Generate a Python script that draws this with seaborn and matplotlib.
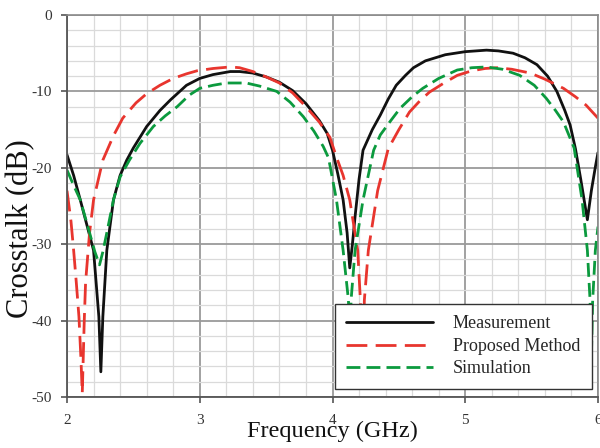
import matplotlib
matplotlib.use("Agg")
import matplotlib.pyplot as plt
import seaborn as sns
from matplotlib.ticker import MultipleLocator

# ---- data ----
meas_f = [2.00, 2.05, 2.10, 2.15, 2.20, 2.24, 2.255, 2.27, 2.30, 2.35, 2.40, 2.45, 2.50,
          2.60, 2.70, 2.78, 2.90, 3.00, 3.10, 3.23, 3.30, 3.40, 3.50, 3.60, 3.70, 3.80,
          3.90, 3.96, 4.00, 4.04, 4.08, 4.11, 4.13, 4.15, 4.17, 4.20, 4.23, 4.30, 4.36,
          4.42, 4.48, 4.55, 4.61, 4.70, 4.85, 5.00, 5.16, 5.25, 5.36, 5.45, 5.54, 5.62,
          5.69, 5.75, 5.79, 5.83, 5.87, 5.92, 5.95, 5.98, 6.00]
meas_db = [-18.3, -21.0, -24.2, -27.5, -30.8, -39.5, -46.7, -39.5, -30.8, -24.2, -21.0, -19.0, -17.4,
           -14.6, -12.5, -11.1, -9.2, -8.3, -7.8, -7.4, -7.4, -7.6, -8.1, -8.8, -9.9, -11.6,
           -13.8, -15.5, -17.7, -20.8, -24.2, -28.5, -33.1, -30.0, -26.4, -21.5, -17.7, -15.0, -13.1,
           -11.0, -9.2, -7.9, -6.9, -6.0, -5.2, -4.8, -4.6, -4.7, -5.0, -5.6, -6.5, -8.0,
           -10.0, -12.5, -14.4, -17.5, -21.5, -26.8, -23.0, -19.9, -18.0]

prop_f = [2.00, 2.03, 2.05, 2.07, 2.09, 2.105, 2.115, 2.13, 2.14, 2.17, 2.20, 2.27, 2.35,
          2.42, 2.52, 2.60, 2.70, 2.80, 2.90, 2.98, 3.10, 3.23, 3.30, 3.40, 3.50, 3.60,
          3.70, 3.80, 3.90, 3.98, 4.03, 4.08, 4.13, 4.19, 4.21, 4.225, 4.24, 4.27, 4.34,
          4.42, 4.50, 4.58, 4.66, 4.73, 4.84, 4.94, 5.05, 5.15, 5.24, 5.35, 5.49, 5.60,
          5.67, 5.74, 5.83, 5.91, 6.00]
prop_db = [-23.0, -27.0, -30.8, -35.0, -39.5, -45.0, -49.5, -40.0, -35.0, -28.5, -24.2, -19.0, -15.8,
           -13.5, -11.5, -10.3, -9.2, -8.3, -7.7, -7.3, -7.0, -6.8, -6.9, -7.4, -8.1, -8.9,
           -10.2, -12.0, -14.0, -16.0, -18.6, -21.0, -24.2, -30.8, -37.3, -48.0, -37.3, -30.8, -23.0,
           -17.5, -15.0, -12.7, -11.2, -10.1, -8.9, -7.9, -7.3, -7.0, -6.9, -7.1, -7.6, -8.4,
           -9.0, -9.6, -10.7, -11.8, -13.5]

sim_f = [2.00, 2.05, 2.10, 2.17, 2.21, 2.245, 2.27, 2.30, 2.35, 2.40, 2.47, 2.55, 2.65,
         2.74, 2.83, 2.92, 3.00, 3.10, 3.20, 3.35, 3.45, 3.58, 3.68, 3.78, 3.86, 3.93,
         3.97, 4.03, 4.08, 4.12, 4.13, 4.14, 4.17, 4.23, 4.31, 4.36, 4.44, 4.51, 4.60,
         4.68, 4.80, 4.94, 5.05, 5.16, 5.28, 5.41, 5.52, 5.61, 5.68, 5.74, 5.82, 5.88,
         5.92, 5.94, 5.95, 5.96, 5.98, 6.00]
sim_db = [-20.3, -22.3, -24.2, -28.5, -31.0, -32.7, -31.0, -28.5, -24.2, -21.2, -19.0, -16.8, -14.6,
          -13.2, -12.0, -10.5, -9.6, -9.2, -8.9, -8.9, -9.3, -10.0, -11.4, -13.3, -15.2, -17.2,
          -18.7, -24.2, -30.8, -37.3, -45.0, -37.3, -30.8, -24.2, -17.7, -15.7, -13.8, -12.2, -10.7,
          -9.6, -8.3, -7.2, -6.9, -6.8, -7.1, -7.9, -9.2, -10.9, -12.5, -14.0, -17.4, -24.2,
          -30.8, -37.3, -45.0, -37.3, -30.8, -27.7]

x_ticks = [2, 3, 4, 5, 6]
y_ticks = [0, -10, -20, -30, -40, -50]

# ---- style ----
sns.set_style("white")
plt.rcParams["font.family"] = ["Liberation Serif", "DejaVu Serif"]

fig = plt.figure(figsize=(6.0, 4.48), dpi=100)
ax = fig.add_axes([67 / 600, 1 - 397 / 448, 531 / 600, 382 / 448])

sns.lineplot(x=meas_f, y=meas_db, ax=ax, color="#111111", linewidth=2.0,
             label="Measurement", sort=False, errorbar=None)
sns.lineplot(x=prop_f, y=prop_db, ax=ax, color="#e8352e", linewidth=2.0,
             linestyle=(0, (7.5, 3.0)), label="Proposed Method", sort=False, errorbar=None)
sns.lineplot(x=sim_f, y=sim_db, ax=ax, color="#0b9a3e", linewidth=2.0,
             linestyle=(0, (5.0, 2.2)), label="Simulation", sort=False, errorbar=None)

ax.set_xlim(2, 6)
ax.set_ylim(-50, 0)
ax.set_xticks(x_ticks)
ax.set_yticks(y_ticks)
ax.set_xticklabels([str(v) for v in x_ticks])
ax.set_yticklabels([str(v) for v in y_ticks])
ax.xaxis.set_minor_locator(MultipleLocator(0.2))
ax.yaxis.set_minor_locator(MultipleLocator(2))

ax.grid(which="major", color="#9a9a9a", linewidth=1.3, zorder=0)
ax.grid(which="minor", color="#dadada", linewidth=0.9, zorder=0)
ax.set_axisbelow(True)

ax.tick_params(axis="both", which="major", direction="out", length=4, width=1.2,
               color="#555555", labelsize=11, labelcolor="#333333",
               bottom=True, left=True)
ax.tick_params(axis="y", which="major", pad=7)
ax.tick_params(axis="x", which="major", pad=8)
ax.tick_params(which="minor", length=0)

for side in ["left", "bottom"]:
    ax.spines[side].set_color("#555555")
    ax.spines[side].set_linewidth(1.3)
for side in ["top", "right"]:
    ax.spines[side].set_color("#8a8a8a")
    ax.spines[side].set_linewidth(1.2)

ax.set_xlabel("Frequency (GHz)", fontsize=17.5, color="#111111")
ax.set_ylabel("Crosstalk (dB)", fontsize=22, color="#111111")
ax.xaxis.set_label_coords(0.5, -0.063)
ax.yaxis.set_label_coords(-0.060, 0.442)

leg = ax.legend(loc="lower right", bbox_to_anchor=(592 / 600, 1 - 389 / 448),
                bbox_transform=fig.transFigure, borderaxespad=0,
                fontsize=13, frameon=True, fancybox=False, shadow=False,
                framealpha=1.0, edgecolor="#333333", handlelength=4.8,
                handletextpad=1.1, borderpad=0.65, labelspacing=0.3)
leg.get_frame().set_linewidth(1.0)

fig.savefig("out.png", dpi=100)
